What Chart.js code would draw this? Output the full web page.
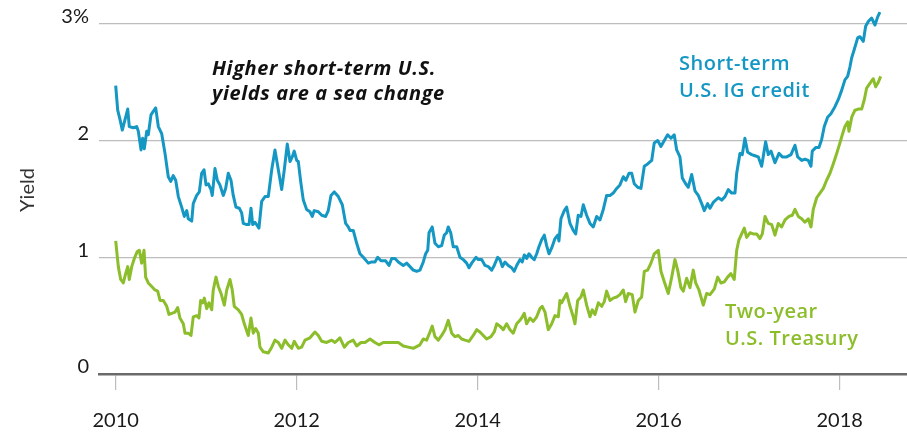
<!DOCTYPE html>
<html>
<head>
<meta charset="utf-8">
<title>Short-term yields</title>
<script src="https://cdn.jsdelivr.net/npm/chart.js@4.4.1/dist/chart.umd.min.js"></script>
<style>
  html, body { margin: 0; padding: 0; background: #fff; }
  .chart { position: relative; width: 907px; height: 433px; }
</style>
</head>
<body>
<div class="chart"><canvas id="yields"></canvas></div>
<script>
// short-term U.S. IG credit yield (decimal years)
const creditYears = [
  2010.000, 2010.022, 2010.048, 2010.073, 2010.103, 2010.133, 2010.150, 2010.194, 2010.232, 2010.250,
  2010.280, 2010.298, 2010.316, 2010.343, 2010.360, 2010.390, 2010.415, 2010.442, 2010.471, 2010.508,
  2010.545, 2010.581, 2010.608, 2010.636, 2010.663, 2010.692, 2010.729, 2010.758, 2010.785, 2010.802,
  2010.840, 2010.857, 2010.895, 2010.924, 2010.950, 2010.976, 2010.998, 2011.023, 2011.053, 2011.067,
  2011.097, 2011.123, 2011.152, 2011.189, 2011.215, 2011.244, 2011.274, 2011.299, 2011.329, 2011.366,
  2011.392, 2011.410, 2011.448, 2011.473, 2011.495, 2011.514, 2011.539, 2011.583, 2011.613, 2011.650,
  2011.686, 2011.724, 2011.760, 2011.797, 2011.834, 2011.863, 2011.896, 2011.926, 2011.951, 2011.973,
  2012.000, 2012.018, 2012.044, 2012.073, 2012.110, 2012.147, 2012.172, 2012.194, 2012.239, 2012.276,
  2012.320, 2012.349, 2012.379, 2012.415, 2012.460, 2012.504, 2012.541, 2012.570, 2012.589, 2012.625,
  2012.663, 2012.699, 2012.736, 2012.791, 2012.829, 2012.865, 2012.895, 2012.931, 2012.983, 2013.020,
  2013.050, 2013.086, 2013.123, 2013.178, 2013.215, 2013.252, 2013.288, 2013.326, 2013.362, 2013.399,
  2013.425, 2013.448, 2013.462, 2013.498, 2013.528, 2013.565, 2013.602, 2013.631, 2013.657, 2013.675,
  2013.702, 2013.730, 2013.768, 2013.804, 2013.841, 2013.878, 2013.904, 2013.934, 2013.981, 2014.007,
  2014.044, 2014.081, 2014.117, 2014.155, 2014.183, 2014.221, 2014.246, 2014.272, 2014.302, 2014.338,
  2014.376, 2014.404, 2014.431, 2014.467, 2014.493, 2014.515, 2014.541, 2014.567, 2014.597, 2014.625,
  2014.652, 2014.677, 2014.707, 2014.736, 2014.762, 2014.788, 2014.818, 2014.854, 2014.884, 2014.898,
  2014.920, 2014.957, 2014.983, 2015.020, 2015.056, 2015.083, 2015.111, 2015.141, 2015.167, 2015.204,
  2015.241, 2015.277, 2015.315, 2015.351, 2015.388, 2015.425, 2015.462, 2015.498, 2015.536, 2015.572,
  2015.609, 2015.638, 2015.672, 2015.702, 2015.730, 2015.768, 2015.804, 2015.841, 2015.878, 2015.923,
  2015.951, 2015.989, 2016.025, 2016.062, 2016.099, 2016.136, 2016.172, 2016.199, 2016.235, 2016.261,
  2016.298, 2016.327, 2016.365, 2016.401, 2016.438, 2016.475, 2016.504, 2016.541, 2016.567, 2016.603,
  2016.659, 2016.696, 2016.733, 2016.769, 2016.807, 2016.843, 2016.862, 2016.898, 2016.924, 2016.953,
  2016.983, 2017.028, 2017.064, 2017.101, 2017.138, 2017.182, 2017.211, 2017.241, 2017.285, 2017.329,
  2017.366, 2017.414, 2017.462, 2017.506, 2017.536, 2017.580, 2017.616, 2017.653, 2017.683, 2017.697,
  2017.735, 2017.771, 2017.801, 2017.830, 2017.867, 2017.903, 2017.948, 2017.984, 2018.022, 2018.058,
  2018.088, 2018.113, 2018.133, 2018.161, 2018.199, 2018.224, 2018.261, 2018.287, 2018.316, 2018.353,
  2018.390, 2018.420, 2018.445
];
const creditYields = [
  2.47, 2.26, 2.18, 2.09, 2.18, 2.27, 2.12, 2.11, 2.12, 2.08,
  1.92, 2.02, 1.93, 2.08, 2.05, 2.22, 2.25, 2.28, 2.12, 2.06,
  1.89, 1.69, 1.65, 1.70, 1.66, 1.52, 1.43, 1.35, 1.40, 1.33,
  1.31, 1.46, 1.53, 1.56, 1.72, 1.75, 1.62, 1.63, 1.58, 1.53,
  1.76, 1.66, 1.62, 1.53, 1.59, 1.72, 1.66, 1.53, 1.43, 1.42,
  1.38, 1.29, 1.28, 1.28, 1.42, 1.28, 1.30, 1.25, 1.48, 1.52,
  1.52, 1.75, 1.92, 1.75, 1.58, 1.75, 1.97, 1.82, 1.86, 1.91,
  1.83, 1.82, 1.65, 1.49, 1.41, 1.39, 1.35, 1.40, 1.39, 1.36,
  1.35, 1.40, 1.53, 1.56, 1.52, 1.45, 1.29, 1.26, 1.23, 1.23,
  1.12, 1.03, 1.00, 0.95, 0.96, 0.96, 1.00, 0.97, 0.97, 0.93,
  0.99, 0.99, 0.96, 0.93, 0.95, 0.92, 0.89, 0.88, 0.89, 0.96,
  1.03, 1.06, 1.21, 1.26, 1.12, 1.09, 1.10, 1.19, 1.21, 1.26,
  1.21, 1.09, 1.09, 1.00, 0.98, 0.95, 0.91, 0.95, 1.00, 0.98,
  0.98, 0.93, 0.92, 0.89, 0.93, 1.00, 0.98, 0.92, 0.96, 0.93,
  0.91, 0.88, 0.93, 0.98, 0.96, 1.02, 0.99, 1.03, 1.00, 0.98,
  1.03, 1.09, 1.15, 1.19, 1.10, 1.03, 1.08, 1.16, 1.19, 1.14,
  1.33, 1.40, 1.43, 1.29, 1.23, 1.20, 1.36, 1.35, 1.45, 1.36,
  1.29, 1.26, 1.35, 1.32, 1.41, 1.53, 1.53, 1.55, 1.59, 1.62,
  1.69, 1.66, 1.72, 1.72, 1.63, 1.60, 1.59, 1.78, 1.80, 1.83,
  1.98, 2.00, 1.95, 2.00, 2.05, 2.02, 2.05, 1.92, 1.86, 1.68,
  1.63, 1.60, 1.71, 1.57, 1.53, 1.46, 1.40, 1.46, 1.42, 1.47,
  1.51, 1.49, 1.52, 1.58, 1.55, 1.55, 1.72, 1.89, 1.88, 2.02,
  1.90, 1.88, 1.87, 1.86, 1.78, 1.99, 1.88, 1.91, 1.81, 1.89,
  1.86, 1.86, 1.88, 1.96, 1.86, 1.83, 1.84, 1.83, 1.78, 1.91,
  1.94, 1.94, 2.01, 2.12, 2.20, 2.23, 2.29, 2.35, 2.43, 2.52,
  2.55, 2.63, 2.71, 2.78, 2.88, 2.89, 2.85, 2.98, 3.02, 3.05,
  2.99, 3.06, 3.10
];

// two-year U.S. Treasury yield
const treasuryYears = [
  2010.000, 2010.029, 2010.055, 2010.084, 2010.110, 2010.133, 2010.150, 2010.177, 2010.206, 2010.239,
  2010.261, 2010.287, 2010.313, 2010.331, 2010.360, 2010.398, 2010.434, 2010.464, 2010.490, 2010.526,
  2010.564, 2010.589, 2010.619, 2010.655, 2010.685, 2010.710, 2010.747, 2010.766, 2010.802, 2010.832,
  2010.857, 2010.895, 2010.920, 2010.939, 2010.961, 2010.979, 2011.006, 2011.031, 2011.061, 2011.078,
  2011.108, 2011.134, 2011.164, 2011.200, 2011.227, 2011.263, 2011.288, 2011.310, 2011.355, 2011.392,
  2011.421, 2011.465, 2011.495, 2011.520, 2011.547, 2011.576, 2011.594, 2011.631, 2011.686, 2011.724,
  2011.760, 2011.797, 2011.834, 2011.871, 2011.907, 2011.945, 2011.973, 2012.018, 2012.055, 2012.092,
  2012.147, 2012.202, 2012.239, 2012.276, 2012.331, 2012.387, 2012.423, 2012.478, 2012.526, 2012.570,
  2012.625, 2012.663, 2012.710, 2012.755, 2012.810, 2012.865, 2012.909, 2012.957, 2013.012, 2013.067,
  2013.123, 2013.178, 2013.233, 2013.288, 2013.362, 2013.399, 2013.436, 2013.473, 2013.498, 2013.528,
  2013.565, 2013.602, 2013.639, 2013.675, 2013.713, 2013.749, 2013.786, 2013.823, 2013.860, 2013.904,
  2013.951, 2013.989, 2014.025, 2014.062, 2014.099, 2014.147, 2014.183, 2014.210, 2014.246, 2014.283,
  2014.320, 2014.357, 2014.393, 2014.431, 2014.467, 2014.493, 2014.515, 2014.541, 2014.578, 2014.614,
  2014.652, 2014.688, 2014.713, 2014.744, 2014.780, 2014.818, 2014.854, 2014.891, 2014.909, 2014.928,
  2014.983, 2015.020, 2015.056, 2015.075, 2015.105, 2015.141, 2015.167, 2015.204, 2015.241, 2015.266,
  2015.296, 2015.333, 2015.370, 2015.399, 2015.425, 2015.462, 2015.498, 2015.536, 2015.572, 2015.609,
  2015.635, 2015.664, 2015.708, 2015.738, 2015.775, 2015.812, 2015.841, 2015.878, 2015.915, 2015.951,
  2015.996, 2016.025, 2016.062, 2016.106, 2016.144, 2016.180, 2016.210, 2016.246, 2016.272, 2016.309,
  2016.346, 2016.382, 2016.409, 2016.445, 2016.493, 2016.530, 2016.567, 2016.615, 2016.652, 2016.688,
  2016.725, 2016.762, 2016.798, 2016.835, 2016.862, 2016.887, 2016.917, 2016.946, 2016.972, 2017.009,
  2017.045, 2017.083, 2017.119, 2017.145, 2017.175, 2017.211, 2017.249, 2017.285, 2017.322, 2017.359,
  2017.396, 2017.440, 2017.476, 2017.506, 2017.543, 2017.580, 2017.616, 2017.653, 2017.683, 2017.708,
  2017.746, 2017.782, 2017.819, 2017.856, 2017.893, 2017.929, 2017.967, 2018.003, 2018.029, 2018.058,
  2018.088, 2018.103, 2018.133, 2018.169, 2018.206, 2018.243, 2018.272, 2018.298, 2018.334, 2018.371,
  2018.398, 2018.427, 2018.453
];
const treasuryYields = [
  1.14, 0.92, 0.81, 0.78, 0.86, 0.92, 0.81, 0.92, 0.99, 1.05,
  1.06, 0.95, 1.06, 0.83, 0.78, 0.75, 0.72, 0.71, 0.63, 0.63,
  0.58, 0.51, 0.52, 0.53, 0.57, 0.48, 0.43, 0.35, 0.35, 0.33,
  0.49, 0.50, 0.48, 0.63, 0.61, 0.65, 0.56, 0.61, 0.55, 0.72,
  0.83, 0.75, 0.69, 0.59, 0.72, 0.81, 0.72, 0.58, 0.55, 0.51,
  0.43, 0.33, 0.48, 0.35, 0.39, 0.35, 0.23, 0.19, 0.18, 0.23,
  0.29, 0.27, 0.22, 0.29, 0.25, 0.22, 0.28, 0.22, 0.23, 0.29,
  0.31, 0.36, 0.33, 0.28, 0.27, 0.29, 0.27, 0.31, 0.23, 0.27,
  0.29, 0.24, 0.27, 0.27, 0.30, 0.27, 0.25, 0.27, 0.27, 0.27,
  0.27, 0.24, 0.23, 0.22, 0.25, 0.30, 0.29, 0.36, 0.41, 0.32,
  0.29, 0.33, 0.38, 0.46, 0.35, 0.32, 0.33, 0.30, 0.29, 0.28,
  0.33, 0.38, 0.36, 0.33, 0.30, 0.32, 0.36, 0.43, 0.41, 0.38,
  0.43, 0.38, 0.35, 0.43, 0.46, 0.49, 0.52, 0.43, 0.48, 0.45,
  0.49, 0.56, 0.58, 0.53, 0.38, 0.43, 0.50, 0.49, 0.63, 0.61,
  0.69, 0.58, 0.49, 0.43, 0.63, 0.66, 0.72, 0.59, 0.49, 0.55,
  0.51, 0.61, 0.58, 0.62, 0.71, 0.63, 0.65, 0.66, 0.68, 0.72,
  0.62, 0.69, 0.68, 0.53, 0.63, 0.66, 0.88, 0.89, 0.95, 1.03,
  1.06, 0.88, 0.79, 0.69, 0.83, 0.98, 0.89, 0.74, 0.71, 0.82,
  0.74, 0.89, 0.78, 0.72, 0.59, 0.69, 0.68, 0.73, 0.83, 0.78,
  0.79, 0.83, 0.86, 0.81, 1.06, 1.15, 1.20, 1.25, 1.17, 1.21,
  1.20, 1.20, 1.16, 1.20, 1.35, 1.29, 1.28, 1.19, 1.29, 1.26,
  1.32, 1.35, 1.36, 1.41, 1.35, 1.33, 1.30, 1.33, 1.26, 1.41,
  1.51, 1.55, 1.59, 1.66, 1.72, 1.80, 1.89, 1.98, 2.05, 2.12,
  2.16, 2.08, 2.20, 2.26, 2.27, 2.27, 2.35, 2.45, 2.49, 2.53,
  2.46, 2.50, 2.55
];

const xTicks = [2010, 2012, 2014, 2016, 2018];
const yTicks = [0, 1, 2, 3];

const BLUE = "#1597c4";
const GREEN = "#8cbd2b";

const toPoints = (xs, ys) => xs.map((x, i) => ({ x: x, y: ys[i] }));

// text notes drawn on top of the plot
const notes = {
  id: "notes",
  afterDraw(chart) {
    const ctx = chart.ctx;
    ctx.save();
    ctx.textAlign = "left";
    ctx.textBaseline = "alphabetic";
    ctx.fillStyle = "#111";
    ctx.font = "italic 700 20px 'Open Sans'";
    ctx.letterSpacing = "0.6px";
    ctx.fillText("Higher short-term U.S.", 212, 75);
    ctx.fillText("yields are a sea change", 212, 100);
    ctx.font = "600 20px 'Open Sans'";
    ctx.letterSpacing = "0.5px";
    ctx.fillStyle = BLUE;
    ctx.fillText("Short-term", 679, 70);
    ctx.fillText("U.S. IG credit", 679, 97);
    ctx.fillStyle = GREEN;
    ctx.fillText("Two-year", 725, 318);
    ctx.fillText("U.S. Treasury", 725, 345);
    ctx.restore();
  },
};

new Chart(document.getElementById("yields"), {
  type: "line",
  data: {
    datasets: [
      {
        label: "Short-term U.S. IG credit",
        data: toPoints(creditYears, creditYields),
        borderColor: BLUE,
        borderWidth: 3,
        pointRadius: 0,
        tension: 0,
        borderJoinStyle: "round",
      },
      {
        label: "Two-year U.S. Treasury",
        data: toPoints(treasuryYears, treasuryYields),
        borderColor: GREEN,
        borderWidth: 3,
        pointRadius: 0,
        tension: 0,
        borderJoinStyle: "round",
      },
    ],
  },
  options: {
    responsive: true,
    maintainAspectRatio: false,
    animation: false,
    layout: { padding: { top: 6, right: 0, bottom: 0, left: 0 } },
    plugins: {
      legend: { display: false },
      tooltip: { enabled: false },
    },
    scales: {
      x: {
        type: "linear",
        min: 2009.8155,
        max: 2018.744,
        afterBuildTicks: (s) => {
          s.ticks = xTicks.map((v) => ({ value: v }));
        },
        afterFit: (s) => {
          s.height = 59;
        },
        grid: {
          drawOnChartArea: false,
          drawTicks: true,
          tickLength: 16,
          color: "#bdbdbd",
          lineWidth: 1.2,
        },
        border: { display: true, color: "#6a6a6a", width: 2.5 },
        ticks: {
          padding: 19,
          autoSkip: false,
          maxRotation: 0,
          color: "#1a1a1a",
          font: { family: "Lato", size: 20 },
          callback: (v) => String(v),
        },
      },
      y: {
        min: 0,
        max: 3.153,
        afterBuildTicks: (s) => {
          s.ticks = yTicks.map((v) => ({ value: v }));
        },
        afterFit: (s) => {
          s.width = 99;
          s.paddingTop = 0;
          s.paddingBottom = 0;
        },
        grid: {
          drawTicks: false,
          color: (c) => (c.tick && c.tick.value === 0 ? "rgba(0,0,0,0)" : "#bdbdbd"),
          lineWidth: 1.2,
        },
        border: { display: false },
        ticks: {
          padding: 10,
          labelOffset: -7,
          color: "#1a1a1a",
          font: { family: "Lato", size: 20 },
          callback: (v) => (v === 3 ? "3%" : String(v)),
        },
        title: {
          display: true,
          text: "Yield",
          color: "#333",
          font: { family: "Lato", size: 20 },
          padding: { top: 16, bottom: 0 },
        },
      },
    },
  },
  plugins: [notes],
});
</script>
</body>
</html>
